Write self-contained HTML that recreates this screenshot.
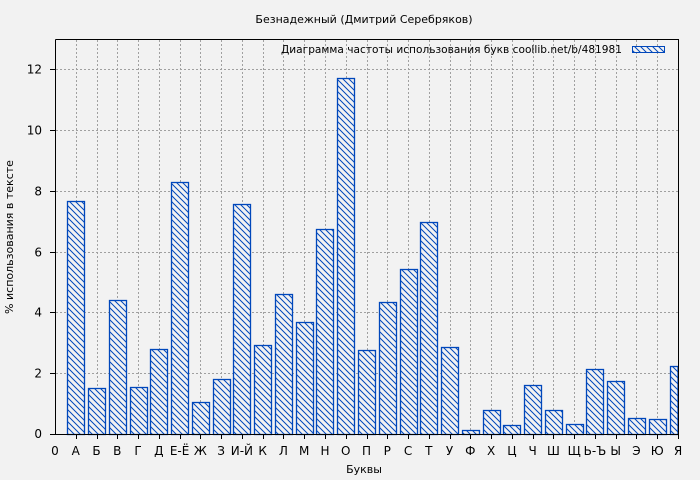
<!DOCTYPE html>
<html><head><meta charset="utf-8"><style>body{margin:0;background:#f2f2f2}svg{display:block}text{font-family:"DejaVu Sans","Liberation Sans",sans-serif;fill:#000}</style></head>
<body>
<svg width="700" height="480" xmlns="http://www.w3.org/2000/svg">
<defs><pattern id="h" width="6" height="6" patternUnits="userSpaceOnUse"><rect width="6" height="6" fill="#f2f2f2"/><path d="M-1,-1 L7,7 M-1,5 L1,7 M5,-1 L7,1" stroke="#0047bb" stroke-width="1"/></pattern></defs>
<rect width="700" height="480" fill="#f2f2f2"/>
<g id="grid" stroke="#a0a0a0" stroke-dasharray="2,2" stroke-width="1"></g>
<g id="bars"></g>
<path d="M55.5,39.5 H678.5 V434.5 M55.5,39.5 V434.5 H678.5" fill="none" stroke="#000"/>
<g id="ticks" stroke="#000"></g>
<g id="labels" font-size="12"></g>
<text x="364" y="23" font-size="11" text-anchor="middle">Безнадежный (Дмитрий Серебряков)</text>
<text x="281" y="53" font-size="11" textLength="341" lengthAdjust="spacingAndGlyphs">Диаграмма частоты использования букв  coollib.net/b/481981</text>
<rect x="632.5" y="46.5" width="32" height="6" fill="url(#h)" stroke="#0047bb"/>
<text x="364" y="473" font-size="11" text-anchor="middle">Буквы</text>
<text transform="translate(13,237) rotate(-90)" font-size="11" text-anchor="middle">% использования в тексте</text>
<script>
var ns="http://www.w3.org/2000/svg";
function el(p,t,a,txt){var e=document.createElementNS(ns,t);for(var k in a)e.setAttribute(k,a[k]);if(txt!=null)e.textContent=txt;document.getElementById(p).appendChild(e);}
var L=["А","Б","В","Г","Д","Е-Ё","Ж","З","И-Й","К","Л","М","Н","О","П","Р","С","Т","У","Ф","Х","Ц","Ч","Ш","Щ","Ь-Ъ","Ы","Э","Ю","Я"];
var V=[7.65,1.5,4.4,1.55,2.8,8.3,1.05,1.8,7.55,2.92,4.6,3.68,6.73,11.7,2.75,4.33,5.42,6.97,2.85,0.13,0.8,0.28,1.6,0.78,0.32,2.15,1.73,0.52,0.5,2.23];
var x0=55,dx=(678-55)/30,y0=434,sy=(434-69)/12;
for(var i=1;i<30;i++){var x=Math.round(x0+i*dx)+0.5;el("grid","line",{x1:x,y1:40,x2:x,y2:434});}
for(var v=2;v<=12;v+=2){var y=Math.round(y0-v*sy)+0.5;el("grid","line",{x1:56,y1:y,x2:678,y2:y});el("ticks","line",{x1:50,y1:y,x2:55,y2:y});el("labels","text",{x:42,y:y+4,"text-anchor":"end"},v);}
el("ticks","line",{x1:50,y1:434.5,x2:55,y2:434.5});el("labels","text",{x:42,y:438,"text-anchor":"end"},0);
el("labels","text",{x:55,y:455,"text-anchor":"middle"},"0");
for(var i=0;i<30;i++){var c=x0+(i+1)*dx,h=V[i]*sy;var x=Math.round(c-8.5)+0.5,w=17;if(x+w>678)w=678-x;
el("bars","rect",{x:x,y:Math.round(y0-h)+0.5,width:w,height:Math.round(h),fill:"url(#h)",stroke:"#0047bb","stroke-width":1.3});
var tx=Math.round(c)+0.5;el("ticks","line",{x1:tx,y1:434,x2:tx,y2:439});
el("labels","text",{x:c,y:455,"text-anchor":"middle"},L[i]);}
</script>
</svg>
</body></html>
